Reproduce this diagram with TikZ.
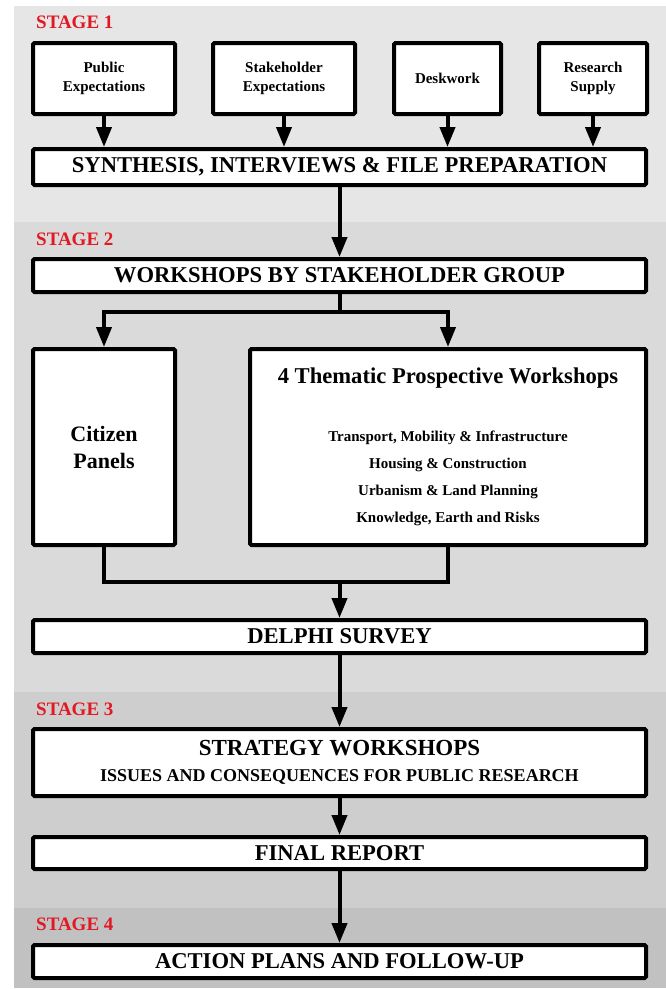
\documentclass[tikz,border=0pt]{standalone}
\usepackage{fontspec}
\setmainfont{Liberation Serif}
\usetikzlibrary{arrows.meta,positioning}
\definecolor{stagered}{RGB}{226,24,34}
\definecolor{bandone}{RGB}{230,230,230}
\definecolor{bandtwo}{RGB}{218,218,218}
\definecolor{bandthree}{RGB}{206,206,206}
\definecolor{bandfour}{RGB}{193,193,193}
\newcommand{\fsz}[1]{\fontsize{#1}{#1}\selectfont}

\begin{document}
\begin{tikzpicture}[x=1pt, y=-1pt,
    box/.style={draw, line width=4pt, fill=white, rounded corners=1.5pt, align=center, inner sep=0pt, font=\bfseries},
    widebox/.style={box, minimum width=613pt},
    flow/.style={line width=4pt, -{Triangle[length=20pt, width=15pt]}},
    link/.style={line width=4pt},
    stagelabel/.style={anchor=base west, inner sep=0pt, text=stagered, font={\bfseries\fsz{19}}}]
      \useasboundingbox (0, 0) rectangle (666, 989);
      \fill[white] (0, 0) rectangle (666, 989);
      \fill[bandone] (14, 6) rectangle (666, 222);
      \fill[bandtwo] (14, 222) rectangle (666, 692);
      \fill[bandthree] (14, 692) rectangle (666, 908);
      \fill[bandfour] (14, 908) rectangle (666, 988);
      \node[stagelabel] (st1) at (36, 28) {STAGE 1};
      \node[stagelabel] (st2) at (36, 245) {STAGE 2};
      \node[stagelabel] (st3) at (36, 715) {STAGE 3};
      \node[stagelabel] (st4) at (36, 930) {STAGE 4};
      \node[box, minimum width=142pt, minimum height=71pt, font={\bfseries\fontsize{15}{19}\selectfont}] (pub) at (104, 78.5) {Public\\Expectations};
      \node[box, minimum width=142pt, minimum height=71pt, font={\bfseries\fontsize{15}{19}\selectfont}] (stk) at (284, 78.5) {Stakeholder\\Expectations};
      \node[box, minimum width=107pt, minimum height=71pt, font={\bfseries\fsz{15}}] (desk) at (447.5, 78.5) {Deskwork};
      \node[box, minimum width=108pt, minimum height=71pt, font={\bfseries\fontsize{15}{19}\selectfont}] (res) at (593, 78.5) {Research\\Supply};
      \node[widebox, minimum height=36pt, font={\bfseries\fsz{22.6}}] (syn) at (339.5, 167) {SYNTHESIS, INTERVIEWS \& FILE PREPARATION};
      \node[widebox, minimum height=33pt, font={\bfseries\fsz{22.6}}] (wsg) at (339.5, 275.5) {WORKSHOPS BY STAKEHOLDER GROUP};
      \node[box, minimum width=142pt, minimum height=196pt, font={\bfseries\fontsize{22}{27}\selectfont}] (cit) at (104, 447) {Citizen\\Panels};
      \node[box, minimum width=396pt, minimum height=196pt, font={\bfseries\fontsize{15}{27}\selectfont}] (thm) at (448, 447) {{\fsz{22.6}4 Thematic Prospective Workshops}\\[31pt]Transport, Mobility \& Infrastructure\\Housing \& Construction\\Urbanism \& Land Planning\\Knowledge, Earth and Risks};
      \node[widebox, minimum height=33pt, font={\bfseries\fsz{22.6}}] (del) at (339.5, 636.5) {DELPHI SURVEY};
      \node[widebox, minimum height=67pt, font={\bfseries\fontsize{18}{26}\selectfont}] (str) at (339.5, 762.5) {{\fsz{23}STRATEGY WORKSHOPS}\\ISSUES AND CONSEQUENCES FOR PUBLIC RESEARCH};
      \node[widebox, minimum height=32pt, font={\bfseries\fsz{22.6}}] (fin) at (339.5, 853) {FINAL REPORT};
      \node[widebox, minimum height=33pt, font={\bfseries\fsz{22.6}}] (act) at (339.5, 961.5) {ACTION PLANS AND FOLLOW-UP};
      \coordinate (split) at (339.5, 312);
      \coordinate (join) at (339.5, 582);
      \draw[flow] (pub) -- (pub |- syn.north);
      \draw[flow] (stk) -- (stk |- syn.north);
      \draw[flow] (desk) -- (desk |- syn.north);
      \draw[flow] (res) -- (res |- syn.north);
      \draw[flow] (syn) -- (wsg);
      \draw[link] (wsg) -- (split);
      \draw[flow] (split) -| (cit.north);
      \draw[flow] (split) -| (thm.north);
      \draw[link] (cit) |- (join) -| (thm);
      \draw[flow] (join) -- (del);
      \draw[flow] (del) -- (str);
      \draw[flow] (str) -- (fin);
      \draw[flow] (fin) -- (act);
    \end{tikzpicture}
\end{document}
